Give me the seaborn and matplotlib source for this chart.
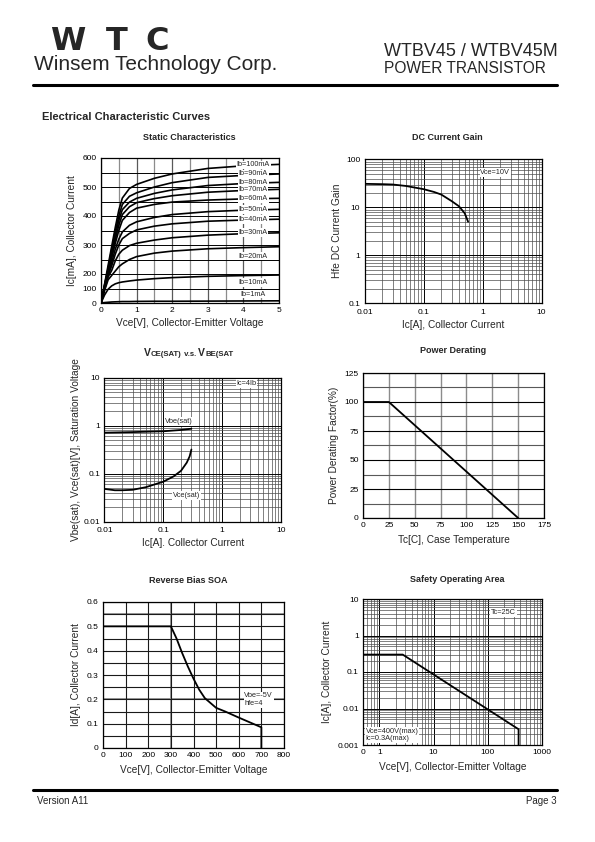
import numpy as np
import pandas as pd
import matplotlib
matplotlib.use("Agg")
import matplotlib.pyplot as plt
import seaborn as sns
from matplotlib.lines import Line2D
from matplotlib.ticker import LogLocator, NullFormatter
from matplotlib.offsetbox import TextArea, HPacker, AnchoredOffsetbox

# ---- Static characteristics (Ic in mA vs Vce in V) ----
static_vce = [0, 0.1, 0.2, 0.3, 0.4, 0.5, 0.6, 0.8, 1.0, 1.5, 2.0, 3.0, 4.0, 5.0]
ic_100ma = [0, 130, 230, 295, 360, 420, 462, 495, 509, 530, 545, 564, 573, 578]
ic_90ma = [0, 125, 220, 285, 345, 400, 440, 468, 480, 500, 515, 533, 540, 545]
ic_80ma = [0, 120, 215, 275, 330, 385, 422, 448, 461, 478, 490, 505, 512, 516]
ic_70ma = [0, 115, 210, 265, 318, 368, 405, 432, 446, 460, 470, 482, 488, 492]
ic_60ma = [0, 110, 205, 255, 305, 350, 385, 412, 427, 440, 448, 455, 459, 461]
ic_50ma = [0, 105, 198, 240, 285, 320, 345, 368, 380, 395, 405, 415, 420, 423]
ic_40ma = [0, 100, 190, 228, 268, 300, 322, 340, 352, 365, 373, 382, 386, 389]
ic_30ma = [0, 95, 180, 212, 245, 268, 282, 298, 306, 317, 325, 334, 339, 342]
ic_20ma = [0, 85, 160, 190, 210, 225, 235, 250, 260, 272, 279, 287, 291, 294]
ic_10ma = [0, 55, 95, 118, 132, 140, 145, 152, 158, 168, 175, 184, 189, 193]
ic_1ma = [0, 3, 5, 7, 8, 9, 10, 10, 11, 12, 12, 13, 14, 15]
ib_labels = ["Ib=100mA", "Ib=90mA", "Ib=80mA", "Ib=70mA", "Ib=60mA", "Ib=50mA",
             "Ib=40mA", "Ib=30mA", "Ib=20mA", "Ib=10mA", "Ib=1mA"]
ib_label_y = [576, 545, 516, 492, 461, 423, 389, 342, 262, 140, 62]
static_yticks = [0, 100, 200, 300, 400, 500, 600]

# ---- DC current gain ----
gain_ic = [0.01, 0.02, 0.03, 0.05, 0.1, 0.15, 0.2, 0.3, 0.4, 0.5, 0.57]
gain_hfe = [31, 30.5, 30, 28, 24, 21, 18.5, 13.5, 10.5, 7.5, 5.0]

# ---- Saturation voltages ----
vbe_ic = [0.01, 0.03, 0.1, 0.2, 0.3]
vbe_sat = [0.72, 0.74, 0.77, 0.82, 0.87]
vce_ic = [0.01, 0.015, 0.02, 0.03, 0.05, 0.1, 0.15, 0.2, 0.25, 0.28, 0.3]
vce_sat = [0.048, 0.045, 0.045, 0.046, 0.052, 0.068, 0.088, 0.115, 0.17, 0.23, 0.32]

# ---- Power derating ----
derate_tc = [0, 25, 150]
derate_pct = [100, 100, 0]

# ---- Reverse bias SOA ----
rbsoa_vce = [0, 300, 325, 350, 375, 400, 425, 450, 500, 540, 600, 650, 700, 700]
rbsoa_ic = [0.5, 0.5, 0.45, 0.39, 0.335, 0.285, 0.24, 0.205, 0.165, 0.15, 0.125, 0.105, 0.085, 0]

# ---- Safety operating area ----
soa_vce = [0.5, 2.7, 370, 370]
soa_ic = [0.3, 0.3, 0.0027, 0.001]

W, H = 595, 842

sns.set_style("white")
plt.rcParams['font.family'] = ['Liberation Sans', 'DejaVu Sans']

fig = plt.figure(figsize=(W / 100, H / 100), dpi=100)


def box(l, t, r, b):
    return [l / W, 1 - b / H, (r - l) / W, (b - t) / H]


def fx(x):
    return x / W


def fy(y):
    return 1 - y / H


def style_axes(ax):
    for s in ax.spines.values():
        s.set_color("black")
        s.set_linewidth(0.9)
    ax.tick_params(which="both", length=0, labelsize=6, pad=3, colors="black")
    ax.set_axisbelow(True)


def log_grid(ax):
    for axis in (ax.xaxis, ax.yaxis):
        axis.set_minor_locator(LogLocator(base=10, subs=np.arange(2, 10)))
        axis.set_minor_formatter(NullFormatter())
    ax.grid(True, which="major", color="black", lw=0.7)
    ax.grid(True, which="minor", color="0.3", lw=0.5)


def note(ax, x, y, s, ha="center", fs=5.3):
    ax.text(x, y, s, fontsize=fs, ha=ha, va="center", zorder=5, linespacing=1.1,
            bbox=dict(facecolor="white", edgecolor="none", pad=0.6))


def draw(ax, xs, ys):
    sns.lineplot(x=xs, y=ys, estimator=None, sort=False, color="black", lw=1.3, ax=ax)


label_kw = dict(fontsize=7.3)

# ---------------- header ----------------
for ch, cx in zip("WTC", [68, 117, 157]):
    fig.text(fx(cx), fy(50), ch, fontsize=23, fontweight="bold", ha="center",
             va="baseline", family="DejaVu Sans")
fig.text(fx(34), fy(70), "Winsem Technology Corp.", fontsize=15, va="baseline")
fig.text(fx(384), fy(56), "WTBV45 / WTBV45M", fontsize=13, va="baseline")
fig.text(fx(384), fy(73), "POWER TRANSISTOR", fontsize=11.2, va="baseline")
fig.add_artist(Line2D([fx(33), fx(557)], [fy(85), fy(85)], lw=2.2, color="black"))
fig.text(fx(42), fy(117), "Electrical Characteristic Curves", fontsize=8,
         fontweight="bold", va="center")

# ---------------- footer ----------------
fig.add_artist(Line2D([fx(33), fx(557)], [fy(790), fy(790)], lw=2.2, color="black"))
fig.text(fx(37), fy(801), "Version A11", fontsize=7, va="center")
fig.text(fx(557), fy(801), "Page 3", fontsize=7, va="center", ha="right")

# chart titles
title_kw = dict(fontsize=6.5, fontweight="bold", ha="center", va="center")
fig.text(fx(189), fy(137.5), "Static Characteristics", **title_kw)
fig.text(fx(447), fy(137), "DC Current Gain", **title_kw)
fig.text(fx(453.5), fy(351), "Power Derating", **title_kw)
fig.text(fx(188.5), fy(580.5), "Reverse Bias SOA", **title_kw)
fig.text(fx(457.5), fy(580), "Safety Operating Area", **title_kw)
parts = [("V", 7.5), ("CE(SAT)", 5.6), (" v.s. ", 5.6), ("V", 7.5), ("BE(SAT", 5.6)]
areas = [TextArea(s, textprops=dict(fontsize=f, fontweight="bold")) for s, f in parts]
pack = HPacker(children=areas, pad=0, sep=0, align="baseline")
fig.add_artist(AnchoredOffsetbox(loc="center", child=pack, frameon=False, pad=0,
                                 borderpad=0, bbox_to_anchor=(fx(188.7), fy(353)),
                                 bbox_transform=fig.transFigure))

# ---------------- Static characteristics ----------------
ax1 = fig.add_axes(box(101, 158, 279, 303))
curves = [ic_100ma, ic_90ma, ic_80ma, ic_70ma, ic_60ma, ic_50ma,
          ic_40ma, ic_30ma, ic_20ma, ic_10ma, ic_1ma]
static_df = pd.concat([pd.DataFrame({"Vce": static_vce, "Ic": c, "Ib": lab})
                       for c, lab in zip(curves, ib_labels)])


def fwd(y):
    y = np.asarray(y, dtype=float)
    return np.where(y < 200, y / 2, y - 100)


def inv(t):
    t = np.asarray(t, dtype=float)
    return np.where(t < 100, t * 2, t + 100)


ax1.set_yscale("function", functions=(fwd, inv))
sns.lineplot(data=static_df, x="Vce", y="Ic", units="Ib", estimator=None,
             sort=False, color="black", lw=1.2, ax=ax1, legend=False)
ax1.set_xlim(0, 5)
ax1.set_ylim(0, 600)
ax1.set_xticks(range(6))
ax1.set_xticks(np.arange(0.5, 5, 1.0), minor=True)
ax1.set_yticks(static_yticks)
ax1.set_yticks([250, 350, 450, 550], minor=True)
ax1.yaxis.set_minor_formatter(NullFormatter())
ax1.grid(True, which="major", axis="x", color="0.35", lw=0.9)
ax1.grid(True, which="minor", axis="x", color="0.55", lw=0.9)
ax1.grid(True, which="both", axis="y", color="black", lw=0.7)
style_axes(ax1)
for lab, ly in zip(ib_labels, ib_label_y):
    note(ax1, 4.27, ly, lab, fs=5.2)
ax1.set_xlabel("Vce[V], Collector-Emitter Voltage", labelpad=3, **label_kw)
ax1.set_ylabel("Ic[mA], Collector Current", labelpad=4, **label_kw)

# ---------------- DC current gain ----------------
ax2 = fig.add_axes(box(364.5, 159.5, 541.5, 303))
draw(ax2, gain_ic, gain_hfe)
ax2.set_xscale("log")
ax2.set_yscale("log")
ax2.set_xlim(0.01, 10)
ax2.set_ylim(0.1, 100)
ax2.set_xticks([0.01, 0.1, 1, 10], ["0.01", "0.1", "1", "10"])
ax2.set_yticks([0.1, 1, 10, 100], ["0.1", "1", "10", "100"])
log_grid(ax2)
style_axes(ax2)
ax2.tick_params(axis="x", pad=4)
note(ax2, 1.65, 53, "Vce=10V")
ax2.set_xlabel("Ic[A], Collector Current", labelpad=3, **label_kw)
ax2.set_ylabel("Hfe DC Current Gain", labelpad=3, **label_kw)

# ---------------- Saturation voltage ----------------
ax3 = fig.add_axes(box(104.5, 378, 281, 521.5))
draw(ax3, vbe_ic, vbe_sat)
draw(ax3, vce_ic, vce_sat)
ax3.set_xscale("log")
ax3.set_yscale("log")
ax3.set_xlim(0.01, 10)
ax3.set_ylim(0.01, 10)
ax3.set_xticks([0.01, 0.1, 1, 10], ["0.01", "0.1", "1", "10"])
ax3.set_yticks([0.01, 0.1, 1, 10], ["0.01", "0.1", "1", "10"])
log_grid(ax3)
style_axes(ax3)
ax3.tick_params(axis="x", pad=4)
note(ax3, 0.18, 1.22, "Vbe(sat)")
note(ax3, 0.245, 0.035, "Vce(sat)")
note(ax3, 2.6, 7.6, "Ic=4Ib")
ax3.set_xlabel("Ic[A]. Collector Current", labelpad=3, **label_kw)
ax3.set_ylabel("Vbe(sat), Vce(sat)[V], Saturation Voltage", labelpad=2, **label_kw)

# ---------------- Power derating ----------------
ax4 = fig.add_axes(box(363, 373, 544, 518))
draw(ax4, derate_tc, derate_pct)
ax4.set_xlim(0, 175)
ax4.set_ylim(0, 125)
ax4.set_xticks(range(0, 176, 25))
ax4.set_yticks(range(0, 126, 25))
ax4.set_xticks([25, 75, 125], minor=True)
ax4.set_yticks(np.arange(12.5, 125, 25), minor=True)
ax4.grid(True, which="major", axis="x", color="0.55", lw=1.0)
ax4.grid(True, which="minor", axis="x", color="0.15", lw=0.9)
ax4.grid(True, which="major", axis="y", color="black", lw=0.8)
ax4.grid(True, which="minor", axis="y", color="0.35", lw=0.8)
style_axes(ax4)
ax4.set_xlabel("Tc[C], Case Temperature", labelpad=4, **label_kw)
ax4.set_ylabel("Power Derating Factor(%)", labelpad=4, **label_kw)

# ---------------- Reverse bias SOA ----------------
ax5 = fig.add_axes(box(103, 602, 284, 748))
draw(ax5, rbsoa_vce, rbsoa_ic)
ax5.set_xlim(0, 800)
ax5.set_ylim(0, 0.6)
ax5.set_xticks(range(0, 801, 100))
ax5.set_yticks(np.arange(0, 0.61, 0.1), ["0", "0.1", "0.2", "0.3", "0.4", "0.5", "0.6"])
ax5.set_yticks(np.arange(0.05, 0.6, 0.1), minor=True)
ax5.grid(True, which="major", axis="x", color="0.1", lw=0.8)
ax5.grid(True, which="both", axis="y", color="0.1", lw=0.8)
style_axes(ax5)
ax5.axvline(300, color="0.6", lw=1.4, zorder=0.5)
ax5.axhline(0.2, color="0.6", lw=1.4, zorder=0.5)
ax5.axhline(0.55, color="0.6", lw=1.4, zorder=0.5)
note(ax5, 625, 0.199, "Vbe=-5V\nhfe=4", ha="left")
ax5.set_xlabel("Vce[V], Collector-Emitter Voltage", labelpad=4, **label_kw)
ax5.set_ylabel("Id[A], Collector Current", labelpad=4, **label_kw)

# ---------------- Safety operating area ----------------
ax6 = fig.add_axes(box(363, 599, 542, 745))
draw(ax6, soa_vce, soa_ic)
ax6.set_xscale("log")
ax6.set_yscale("log")
ax6.set_xlim(0.5, 1000)
ax6.set_ylim(0.001, 10)
ax6.set_xticks([0.5, 1, 10, 100, 1000], ["0", "1", "10", "100", "1000"])
ax6.set_yticks([0.001, 0.01, 0.1, 1, 10], ["0.001", "0.01", "0.1", "1", "10"])
log_grid(ax6)
style_axes(ax6)
note(ax6, 330, 4.2, "Tc=25C", ha="right")
note(ax6, 0.56, 0.0019, "Vce=400V(max)\nIc=0.3A(max)", ha="left")
ax6.set_xlabel("Vce[V], Collector-Emitter Voltage", labelpad=4, **label_kw)
ax6.set_ylabel("Ic[A], Collector Current", labelpad=4, **label_kw)

fig.savefig("out.png", dpi=100)
